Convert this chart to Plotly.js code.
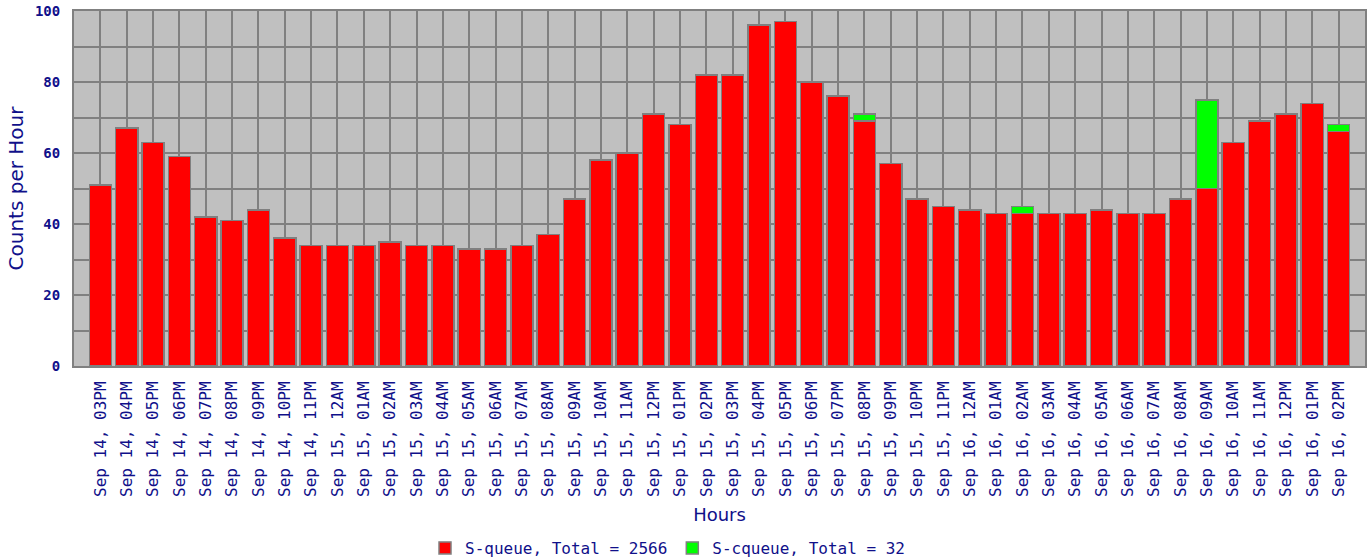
<!DOCTYPE html>
<html>
<head>
<meta charset="utf-8">
<script src="https://cdn.plot.ly/plotly-3.0.1.min.js"></script>
<style>html,body{margin:0;padding:0;background:#fff;}#chart{width:1371px;height:559px;}</style>
</head>
<body>
<div id="chart"></div>
<script>
const hours = [
  "Sep 14, 03PM","Sep 14, 04PM","Sep 14, 05PM","Sep 14, 06PM","Sep 14, 07PM","Sep 14, 08PM",
  "Sep 14, 09PM","Sep 14, 10PM","Sep 14, 11PM","Sep 15, 12AM","Sep 15, 01AM","Sep 15, 02AM",
  "Sep 15, 03AM","Sep 15, 04AM","Sep 15, 05AM","Sep 15, 06AM","Sep 15, 07AM","Sep 15, 08AM",
  "Sep 15, 09AM","Sep 15, 10AM","Sep 15, 11AM","Sep 15, 12PM","Sep 15, 01PM","Sep 15, 02PM",
  "Sep 15, 03PM","Sep 15, 04PM","Sep 15, 05PM","Sep 15, 06PM","Sep 15, 07PM","Sep 15, 08PM",
  "Sep 15, 09PM","Sep 15, 10PM","Sep 15, 11PM","Sep 16, 12AM","Sep 16, 01AM","Sep 16, 02AM",
  "Sep 16, 03AM","Sep 16, 04AM","Sep 16, 05AM","Sep 16, 06AM","Sep 16, 07AM","Sep 16, 08AM",
  "Sep 16, 09AM","Sep 16, 10AM","Sep 16, 11AM","Sep 16, 12PM","Sep 16, 01PM","Sep 16, 02PM"
];
const squeue = [
  51,67,63,59,42,41,44,36,34,34,34,35,
  34,34,33,33,34,37,47,58,60,71,68,82,
  82,96,97,80,76,69,57,47,45,44,43,43,
  43,43,44,43,43,47,50,63,69,71,74,66
];
const scqueue = [
  0,0,0,0,0,0,0,0,0,0,0,0,
  0,0,0,0,0,0,0,0,0,0,0,0,
  0,0,0,0,0,2,0,0,0,0,0,2,
  0,0,0,0,0,0,25,0,0,0,0,2
];
const seriesNames = ["S-queue, Total = 2566", "S-cqueue, Total = 32"];
const yTickVals = [0,10,20,30,40,50,60,70,80,90,100];
const yTickText = ["0","","20","","40","","60","","80","","100"];

const navy = "#10108a";
const mono = "'DejaVu Sans Mono', 'Liberation Mono', monospace";
const sans = "'DejaVu Sans', sans-serif";

const traces = [
  {type:"bar", x:hours, y:squeue, name:seriesNames[0],
   marker:{color:"#ff0000", line:{color:"#808080", width:1.5}}, hoverinfo:"x+y"},
  {type:"bar", x:hours, y:scqueue, name:seriesNames[1],
   marker:{color:"#00ff00", line:{color:"#808080", width:1.5}}, hoverinfo:"x+y"}
];

const layout = {
  width:1371, height:559,
  margin:{l:74, r:6, t:11, b:193},
  paper_bgcolor:"#ffffff",
  plot_bgcolor:"#c0c0c0",
  barmode:"stack",
  bargap:0.16,
  showlegend:true,
  legend:{orientation:"h", xref:"container", yref:"container",
          x:0.31, xanchor:"left", y:0.0197, yanchor:"middle",
          font:{family:mono, size:16, color:navy}, bgcolor:"rgba(0,0,0,0)",
          traceorder:"normal", itemwidth:30},
  xaxis:{type:"category", range:[-1,48], tickangle:-90,
         tickfont:{family:mono, size:16, color:navy},
         showgrid:true, gridcolor:"#808080", gridwidth:2,
         showline:true, mirror:true, linecolor:"#808080", linewidth:2,
         ticks:"", ticklabelstandoff:7, automargin:false,
         title:{text:"Hours", font:{family:sans, size:18, color:navy}, standoff:12}},
  yaxis:{range:[0,100], tickvals:yTickVals, ticktext:yTickText,
         tickfont:{family:mono, size:14, color:navy, weight:"bold"},
         showgrid:true, gridcolor:"#808080", gridwidth:2, zeroline:false,
         showline:true, mirror:true, linecolor:"#808080", linewidth:2,
         ticks:"", ticklabelstandoff:9, automargin:false,
         title:{text:"Counts per Hour", font:{family:sans, size:20, color:navy}, standoff:6}}
};

Plotly.newPlot("chart", traces, layout, {displayModeBar:false, staticPlot:true});
</script>
</body>
</html>
